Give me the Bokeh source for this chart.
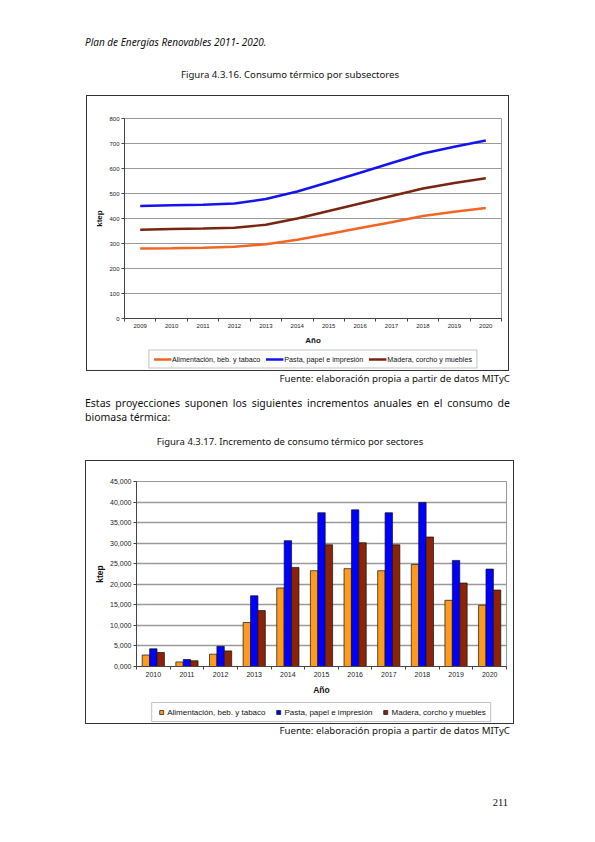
import numpy as np
from bokeh.plotting import figure
from bokeh.layouts import column
from bokeh.models import Div, Range1d, FixedTicker, Legend, LegendItem
from bokeh.embed import file_html
from bokeh.resources import INLINE

# --- data -------------------------------------------------------------
years_line = ["2009", "2010", "2011", "2012", "2013", "2014",
              "2015", "2016", "2017", "2018", "2019", "2020"]
alimentacion = [280, 281, 283, 287, 297, 315, 338, 362, 385, 410, 427, 442]
pasta = [450, 453, 455, 460, 478, 508, 545, 583, 622, 660, 687, 712]
madera = [355, 358, 360, 363, 375, 400, 430, 460, 490, 520, 542, 561]

years_bar = ["2010", "2011", "2012", "2013", "2014", "2015",
             "2016", "2017", "2018", "2019", "2020"]
inc_alimentacion = [2800, 1100, 3000, 10700, 19100, 23300, 23800, 23300, 24800, 16100, 14900]
inc_pasta = [4300, 1700, 4900, 17200, 30600, 37400, 38100, 37400, 39900, 25800, 23700]
inc_madera = [3400, 1400, 3800, 13600, 24100, 29600, 30100, 29600, 31500, 20300, 18600]

series = ["Alimentación, beb. y tabaco", "Pasta, papel e impresión",
          "Madera, corcho y muebles"]

line_yticks = [0, 100, 200, 300, 400, 500, 600, 700, 800]
bar_yticks = [0, 5000, 10000, 15000, 20000, 25000, 30000, 35000, 40000, 45000]
bar_ylabels = ["0,000", "5,000", "10,000", "15,000", "20,000", "25,000",
               "30,000", "35,000", "40,000", "45,000"]

PAGE_FONT = "'Noto Sans', sans-serif"
CHART_FONT = "Liberation Sans"
BOX = {"background": "white", "box-shadow": "inset 0 0 0 1px #333333"}


# --- page text helpers ------------------------------------------------
def txt(center, text, size, align="left", left=0, width=595, extra=""):
    lh = size + 3
    top = center - lh / 2
    return (f'<div style="position:absolute;top:{top}px;left:{left}px;width:{width}px;'
            f'text-align:{align};font-family:{PAGE_FONT};font-size:{size}px;'
            f'line-height:{lh}px;color:#111;{extra}">{text}</div>')


def block(height, parts):
    html = (f'<div style="position:relative;width:595px;height:{height}px">'
            + "".join(parts) + '</div>')
    return Div(text=html, width=595, height=height, margin=0)


def style_axes(p, xlabels, lab_size, title_size, ystand, xstand):
    n = len(xlabels)
    p.xaxis.ticker = FixedTicker(ticks=[i + 0.5 for i in range(n)],
                                 minor_ticks=list(range(n + 1)))
    p.xaxis.major_label_overrides = {i + 0.5: lab for i, lab in enumerate(xlabels)}
    p.xaxis.major_tick_out = 0
    p.xaxis.major_tick_in = 0
    p.xaxis.minor_tick_out = 3
    p.xaxis.minor_tick_in = 0
    p.xaxis.major_label_standoff = 2
    p.xaxis.axis_label = "Año"
    p.xaxis.axis_label_standoff = xstand
    p.yaxis.axis_label = "ktep"
    p.yaxis.axis_label_standoff = ystand
    p.yaxis.major_tick_out = 3
    p.yaxis.major_tick_in = 0
    p.yaxis.minor_tick_out = 0
    p.yaxis.minor_tick_in = 0
    p.yaxis.major_label_standoff = 2
    for ax in (p.xaxis, p.yaxis):
        ax.axis_line_color = "#444444"
        ax.major_tick_line_color = "#444444"
        ax.minor_tick_line_color = "#444444"
        ax.major_label_text_font = CHART_FONT
        ax.major_label_text_font_size = lab_size
        ax.major_label_text_color = "#222222"
        ax.axis_label_text_font = CHART_FONT
        ax.axis_label_text_font_size = title_size
        ax.axis_label_text_font_style = "bold"
        ax.axis_label_text_color = "#111111"
    p.xgrid.visible = False
    p.ygrid.grid_line_color = "#9a9a9a"
    p.outline_line_color = "#9a9a9a"
    p.border_fill_color = None


def legend_strip(width, height, left, kind, colors, data, xs, font_size, spacing,
                 padding, gw, gh):
    # a small frame-only figure that holds the legend under the chart;
    # its ranges sit below the data, so the glyphs only show in the legend
    lf = figure(width=width, height=height, output_backend="svg", toolbar_location=None,
                x_axis_type=None, y_axis_type=None, min_border=0, frame_align=False,
                x_range=Range1d(0, len(xs)), y_range=Range1d(-2, -1),
                margin=(0, 0, 0, left))
    lf.outline_line_color = None
    lf.background_fill_color = None
    lf.border_fill_color = None
    lf.xgrid.visible = False
    lf.ygrid.visible = False
    rends = []
    for vals, c in zip(data, colors):
        if kind == "line":
            rends.append(lf.line(xs, vals, color=c, line_width=2.4))
        else:
            rends.append(lf.scatter(xs, vals, marker="square", size=5, fill_color=c,
                                    line_color="#111111", line_width=0.7))
    leg = Legend(items=[LegendItem(label=s, renderers=[r]) for s, r in zip(series, rends)],
                 orientation="horizontal", location="center",
                 border_line_color="#888888", border_line_width=1,
                 background_fill_color="white", background_fill_alpha=1,
                 label_text_font=CHART_FONT, label_text_font_size=font_size,
                 label_text_color="#111111",
                 glyph_width=gw, glyph_height=gh,
                 label_height=7, label_standoff=1, spacing=spacing,
                 padding=padding, margin=0)
    lf.add_layout(leg, "center")
    return lf


# --- chart 1: lines ---------------------------------------------------
p1 = figure(width=423, height=252, x_range=Range1d(0, 12), y_range=Range1d(0, 800),
            output_backend="svg", toolbar_location=None, frame_align=False,
            min_border_left=38, min_border_right=8, min_border_top=23,
            min_border_bottom=29, margin=0)
style_axes(p1, years_line, "6px", "8px", 2, 5)
p1.yaxis.ticker = FixedTicker(ticks=line_yticks)

xl = np.arange(len(years_line)) + 0.5
line_colors = ["#F26522", "#1414F0", "#7A2512"]
line_data = [alimentacion, pasta, madera]
for vals, c in zip(line_data, line_colors):
    p1.line(xl, vals, color=c, line_width=2.4)

lf1 = legend_strip(377, 24, 38, "line", line_colors, line_data, xl, "7.2px", 5, 4, 18, 7)
chart1 = column(p1, lf1, spacing=0, margin=(0, 0, 0, 86), styles=BOX)

# --- chart 2: bars ----------------------------------------------------
p2 = figure(width=429, height=240, x_range=Range1d(0, 11), y_range=Range1d(0, 45000),
            output_backend="svg", toolbar_location=None, frame_align=False,
            min_border_left=51, min_border_right=8, min_border_top=21,
            min_border_bottom=34, margin=0)
style_axes(p2, years_bar, "7px", "8.5px", 2, 5)
p2.yaxis.ticker = FixedTicker(ticks=bar_yticks)
p2.yaxis.major_label_overrides = dict(zip(bar_yticks, bar_ylabels))
p2.ygrid.grid_line_width = 1.3

xb = np.arange(len(years_bar)) + 0.5
bw = 0.22
bar_colors = ["#FF9A1F", "#0000FF", "#8C2306"]
bar_data = [inc_alimentacion, inc_pasta, inc_madera]
for k, (vals, c) in enumerate(zip(bar_data, bar_colors)):
    p2.vbar(x=xb + (k - 1) * bw, top=vals, width=bw, fill_color=c,
            line_color="#111111", line_width=0.7)

lf2 = legend_strip(370, 24, 51, "bar", bar_colors, bar_data, xb, "8px", 8, 4, 10, 10)
chart2 = column(p2, lf2, spacing=0, margin=(0, 0, 0, 85), styles=BOX)

# --- page text ---------------------------------------------------------
top = block(95, [
    txt(42, "Plan de Energías Renovables 2011- 2020.", 10, left=85, extra="font-style:italic"),
    txt(75, "Figura 4.3.16. Consumo térmico por subsectores", 9.6, align="center", width=580),
])
mid = block(89, [
    txt(8, "Fuente: elaboración propia a partir de datos MITyC", 9.7, align="right", width=510),
    txt(32.5, "Estas proyecciones suponen los siguientes incrementos anuales en el consumo de",
        10.5, left=85, width=425, extra="text-align:justify;text-align-last:justify"),
    txt(46.5, "biomasa térmica:", 10.5, left=85),
    txt(71.5, "Figura 4.3.17. Incremento de consumo térmico por sectores", 9.5,
        align="center", width=580),
])
bottom = block(110, [
    txt(7, "Fuente: elaboración propia a partir de datos MITyC", 9.7, align="right", width=510),
    txt(79, "211", 10.5, align="right", width=508,
        extra="font-family:'Liberation Serif',serif"),
])

page = column(top, chart1, mid, chart2, bottom, spacing=0)
open("out.html", "w").write(file_html(page, INLINE))
